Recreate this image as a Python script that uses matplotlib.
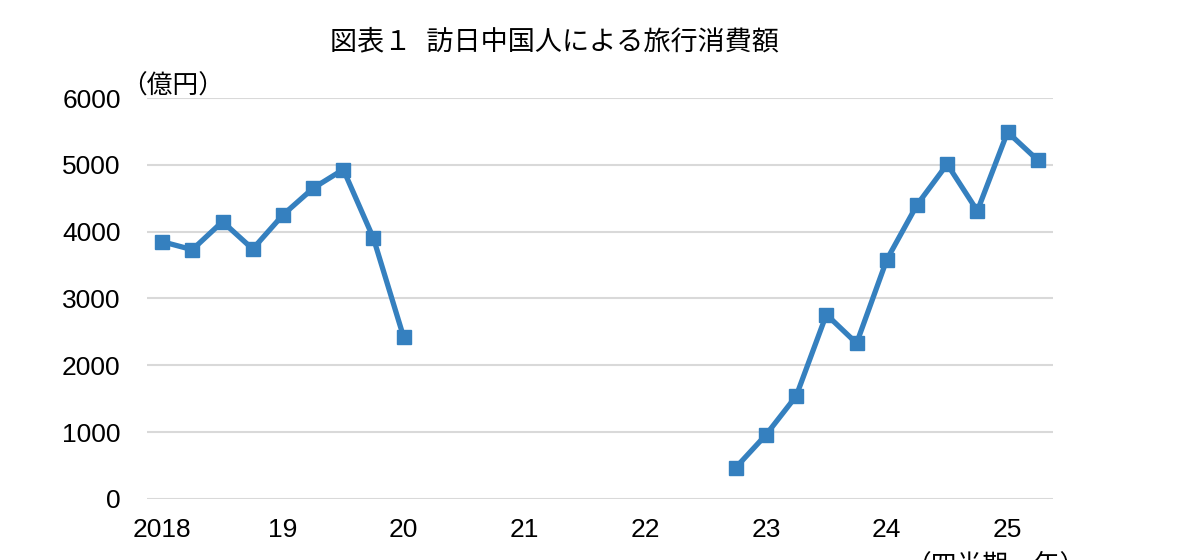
from matplotlib import pyplot as plt
import numpy as np

plt.rcParams['font.family'] = ['Liberation Sans', 'Noto Sans CJK JP']

##-----------------------------------------------------------------------------
## data: quarterly, 2018Q1 .. 2025Q2 (None = no data)

year_labels = ['2018', '19', '20', '21', '22', '23', '24', '25']

spending = [3850, 3730, 4150, 3740,            # 2018
            4250, 4650, 4930, 3900,            # 2019
            2420, None, None, None,            # 2020
            None, None, None, None,            # 2021
            None, None, None, 470,             # 2022
            960, 1540, 2760, 2330,             # 2023
            3580, 4400, 5010, 4310,            # 2024
            5490, 5070]                        # 2025

##-----------------------------------------------------------------------------

y = np.array([np.nan if v is None else v for v in spending], dtype=float)
x = np.arange(len(y))

fig = plt.figure(figsize=(11.79, 5.6), dpi=100)
ax = fig.add_axes([0.1247, 0.109, 0.7683, 0.716])

ax.plot(x, y, color='#3580bf', lw=3.8, marker='s', ms=9.5,
        solid_joinstyle='miter')

ax.set_xlim(-0.5, len(y) - 0.5)
ax.set_ylim(0, 6000)
ax.set_yticks(np.arange(0, 6001, 1000))
ax.set_xticks(np.arange(0, len(y), 4))
ax.set_xticklabels(year_labels)
ax.tick_params(length=0, labelsize=19)
ax.tick_params(axis='y', pad=19)
ax.tick_params(axis='x', pad=14)
ax.grid(axis='y', color='#d9d9d9', lw=1.5)
ax.set_axisbelow(True)
for s in ax.spines.values():
    s.set_visible(False)

fig.text(0.470, 0.925, '図表１  訪日中国人による旅行消費額', ha='center', va='center', fontsize=19.5)
fig.text(0.103, 0.846, '（億円）', ha='left', va='center', fontsize=18.5)
fig.text(0.768, 0.012, '（四半期、年）', ha='left', va='top', fontsize=18.5)

fig.savefig('out.png', dpi=100)
